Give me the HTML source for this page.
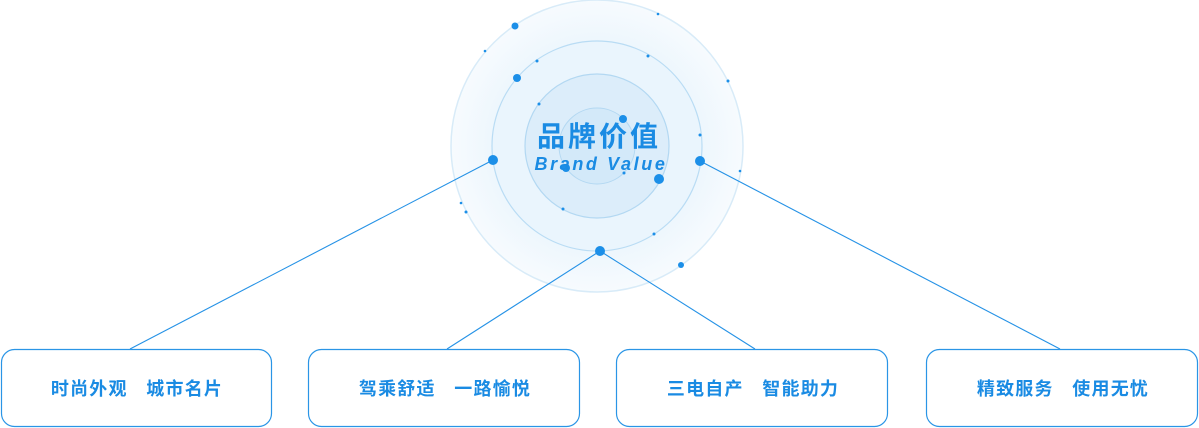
<!DOCTYPE html>
<html><head><meta charset="utf-8"><style>
html,body{margin:0;padding:0;background:#fff;}
svg{display:block}
text{font-family:"Liberation Sans","Noto Sans CJK SC",sans-serif;}
</style></head><body>
<svg width="1199" height="428" viewBox="0 0 1199 428" xmlns="http://www.w3.org/2000/svg">
<defs>
<radialGradient id="g" cx="597" cy="146" r="146" gradientUnits="userSpaceOnUse">
<stop offset="0" stop-color="#d6ebfa"/><stop offset="0.5" stop-color="#e6f3fc"/><stop offset="1" stop-color="#f7fbfe"/>
</radialGradient>
</defs>
<circle cx="597" cy="146" r="146" fill="url(#g)" stroke="#d8ebf8" stroke-width="1.5"/>
<circle cx="597" cy="146" r="105" fill="#eaf5fd" stroke="#b9dcf4" stroke-width="1.2"/>
<circle cx="597" cy="146" r="72" fill="#dcedfa" stroke="#b3d8f2" stroke-width="1.2"/>
<circle cx="597" cy="146" r="38" fill="#d3e9f9" stroke="#b3d8f2" stroke-width="1"/>
<g stroke="#2592e6" stroke-width="1.1" fill="none">
<line x1="493" y1="160" x2="130" y2="349"/>
<line x1="600" y1="251" x2="447" y2="349"/>
<line x1="600" y1="251" x2="755" y2="349"/>
<line x1="700" y1="161" x2="1060" y2="349"/>
</g>
<g fill="#1c8fe8">
<circle cx="493" cy="160" r="5"/><circle cx="700" cy="161" r="5"/><circle cx="600" cy="251" r="5"/>
<circle cx="515" cy="26" r="3.5"/><circle cx="517" cy="78" r="4"/><circle cx="623" cy="119" r="4"/>
<circle cx="566" cy="168" r="4"/><circle cx="659" cy="179" r="5"/><circle cx="681" cy="265" r="3"/>
<circle cx="658" cy="14" r="1.3"/><circle cx="485" cy="51" r="1.3"/><circle cx="537" cy="61" r="1.5"/>
<circle cx="648" cy="56" r="1.5"/><circle cx="728" cy="81" r="1.5"/><circle cx="539" cy="104" r="1.5"/>
<circle cx="700" cy="135" r="1.5"/><circle cx="740" cy="171" r="1.3"/><circle cx="624" cy="173" r="1.5"/>
<circle cx="461" cy="203" r="1.3"/><circle cx="466" cy="212" r="1.5"/><circle cx="563" cy="209" r="1.5"/>
<circle cx="654" cy="234" r="1.5"/>
</g>
<text x="599" y="146" text-anchor="middle" font-size="28" font-weight="bold" letter-spacing="3" fill="#1a8be3">品牌价值</text>
<text x="601" y="170" text-anchor="middle" font-size="18" font-weight="bold" font-style="italic" letter-spacing="2.6" fill="#1a8be3">Brand Value</text>
<g fill="#fff" stroke="#2a95e6" stroke-width="1.2">
<rect x="1.5" y="349.5" width="270" height="77" rx="13"/>
<rect x="308.5" y="349.5" width="271" height="77" rx="13"/>
<rect x="616.5" y="349.5" width="271" height="77" rx="13"/>
<rect x="926.5" y="349.5" width="271" height="77" rx="13"/>
</g>
<g font-size="18" font-weight="bold" fill="#1a8be3" text-anchor="middle" letter-spacing="1.2">
<text x="137" y="395" xml:space="preserve">时尚外观   城市名片</text>
<text x="445" y="395" xml:space="preserve">驾乘舒适   一路愉悦</text>
<text x="753" y="395" xml:space="preserve">三电自产   智能助力</text>
<text x="1063" y="395" xml:space="preserve">精致服务   使用无忧</text>
</g>
</svg>
</body></html>
